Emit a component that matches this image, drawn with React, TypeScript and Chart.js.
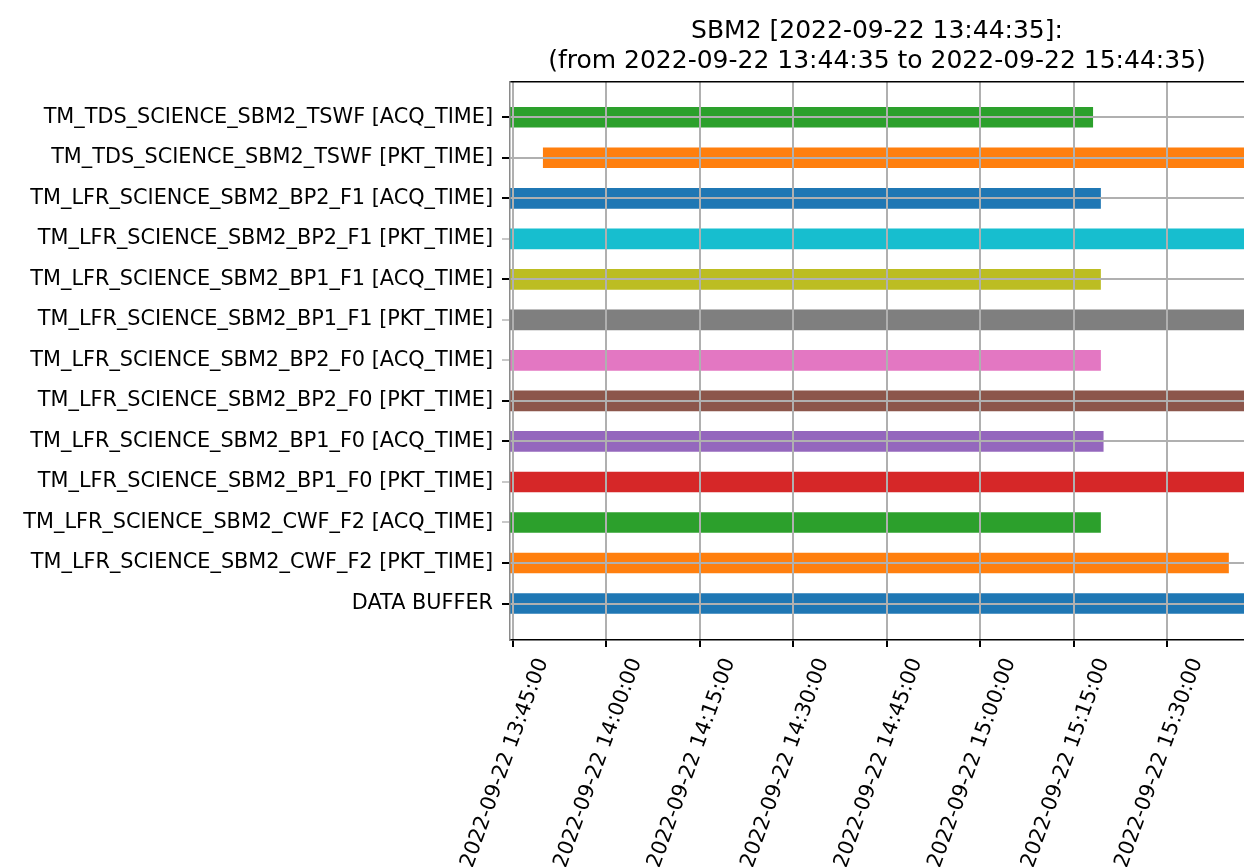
import React, { useEffect, useRef } from "react";
import { Chart, registerables } from "chart.js";

Chart.register(...registerables);

const DATE = "2022-09-22";

const TITLE_LINES = [
  "SBM2 [2022-09-22 13:44:35]:",
  "(from 2022-09-22 13:44:35 to 2022-09-22 15:44:35)",
];

const LABELS = [
  "TM_TDS_SCIENCE_SBM2_TSWF [ACQ_TIME]",
  "TM_TDS_SCIENCE_SBM2_TSWF [PKT_TIME]",
  "TM_LFR_SCIENCE_SBM2_BP2_F1 [ACQ_TIME]",
  "TM_LFR_SCIENCE_SBM2_BP2_F1 [PKT_TIME]",
  "TM_LFR_SCIENCE_SBM2_BP1_F1 [ACQ_TIME]",
  "TM_LFR_SCIENCE_SBM2_BP1_F1 [PKT_TIME]",
  "TM_LFR_SCIENCE_SBM2_BP2_F0 [ACQ_TIME]",
  "TM_LFR_SCIENCE_SBM2_BP2_F0 [PKT_TIME]",
  "TM_LFR_SCIENCE_SBM2_BP1_F0 [ACQ_TIME]",
  "TM_LFR_SCIENCE_SBM2_BP1_F0 [PKT_TIME]",
  "TM_LFR_SCIENCE_SBM2_CWF_F2 [ACQ_TIME]",
  "TM_LFR_SCIENCE_SBM2_CWF_F2 [PKT_TIME]",
  "DATA BUFFER",
];

const START_TIMES = [
  "13:44:35", "13:49:52", "13:44:35", "13:44:35", "13:44:35", "13:44:35", "13:44:35",
  "13:44:35", "13:44:35", "13:44:35", "13:44:35", "13:44:35", "13:44:35",
];

const END_TIMES = [
  "15:18:08", "15:44:35", "15:19:23", "15:44:35", "15:19:23", "15:44:35", "15:19:23",
  "15:44:35", "15:19:49", "15:44:35", "15:19:23", "15:39:55", "15:44:35",
];

const BAR_COLORS = [
  "#2ca02c", "#ff7f0e", "#1f77b4", "#17becf", "#bcbd22", "#7f7f7f", "#e377c2",
  "#8c564b", "#9467bd", "#d62728", "#2ca02c", "#ff7f0e", "#1f77b4",
];

// rows whose horizontal grid line is not visible over the bars
const ROWS_WITHOUT_LINE = [3, 5, 6, 9, 10];

const X_TICKS = [
  "13:45:00", "14:00:00", "14:15:00", "14:30:00",
  "14:45:00", "15:00:00", "15:15:00", "15:30:00",
];

const VIEW_START = "13:44:35";
const VIEW_END = "15:42:21";

const toSec = (t: string) => {
  const [h, m, s] = t.split(":").map(Number);
  return h * 3600 + m * 60 + s;
};
const pad = (n: number) => String(n).padStart(2, "0");
const fmt = (v: number) =>
  `${DATE} ${pad(Math.floor(v / 3600))}:${pad(Math.floor((v % 3600) / 60))}:${pad(Math.round(v % 60))}`;

const FONT = "'DejaVu Sans', sans-serif";

export default function App() {
  const ref = useRef<HTMLCanvasElement>(null);

  useEffect(() => {
    document.body.style.margin = "0";
    const chart = new Chart(ref.current!, {
      type: "bar",
      data: {
        datasets: [
          {
            data: LABELS.map((_, i) => ({
              x: [toSec(START_TIMES[i]), toSec(END_TIMES[i])],
              y: i,
            })) as any,
            backgroundColor: BAR_COLORS,
            borderWidth: 0,
            categoryPercentage: 1,
            barPercentage: 0.51,
          },
        ],
      },
      options: {
        indexAxis: "y",
        animation: false,
        responsive: false,
        maintainAspectRatio: false,
        layout: { padding: 0 },
        plugins: {
          legend: { display: false },
          tooltip: { enabled: false },
          title: {
            display: true,
            text: TITLE_LINES,
            fullSize: false,
            color: "#000",
            font: { family: FONT, size: 25, weight: "normal", lineHeight: 1.2 },
            padding: { top: 16, bottom: 6 },
          },
        },
        scales: {
          x: {
            type: "linear",
            position: "bottom",
            min: toSec(VIEW_START),
            max: toSec(VIEW_END),
            beginAtZero: false,
            offset: false,
            afterBuildTicks: (s: any) => {
              s.ticks = X_TICKS.map((t) => ({ value: toSec(t) }));
            },
            afterFit: (s: any) => {
              s.height = 227;
            },
            grid: {
              z: 1,
              color: "#b0b0b0",
              lineWidth: 2,
              tickColor: "#000",
              tickLength: 7,
              drawOnChartArea: true,
            } as any,
            border: { display: true, color: "#000", width: 1.5, z: 2 } as any,
            ticks: {
              autoSkip: false,
              minRotation: 70,
              maxRotation: 70,
              labelOffset: 30,
              padding: 8,
              color: "#000",
              font: { family: FONT, size: 20.8 },
              callback: (v: any) => fmt(Number(v)),
            },
          },
          xTop: {
            type: "linear",
            position: "top",
            display: true,
            afterFit: (s: any) => {
              s.height = 0;
            },
            grid: { display: false, drawTicks: false },
            border: { display: true, color: "#000", width: 1.5, z: 2 } as any,
            ticks: { display: false },
          },
          y: {
            type: "linear",
            reverse: true,
            min: -0.87,
            max: 12.9,
            offset: false,
            beginAtZero: false,
            afterBuildTicks: (s: any) => {
              s.ticks = LABELS.map((_, i) => ({ value: i }));
            },
            afterFit: (s: any) => {
              s.width = 510;
            },
            grid: {
              z: 1,
              offset: false,
              color: (ctx: any) =>
                ROWS_WITHOUT_LINE.includes(ctx.tick?.value) ? "rgba(0,0,0,0)" : "#b0b0b0",
              tickColor: (ctx: any) =>
                ROWS_WITHOUT_LINE.includes(ctx.tick?.value) ? "#c8c8c8" : "#000",
              lineWidth: 2,
              tickLength: 8,
            } as any,
            border: { display: true, color: "#8a8a8a", width: 1.5, z: 2 } as any,
            ticks: {
              autoSkip: false,
              padding: 9,
              color: "#000",
              font: { family: FONT, size: 20.8 },
              callback: (v: any) => LABELS[Number(v)] ?? "",
            },
          },
        },
      },
    });
    return () => chart.destroy();
  }, []);

  return (
    <div style={{ width: 1244, height: 867, overflow: "hidden" }}>
      <canvas ref={ref} width={1244} height={867} style={{ display: "block" }} />
    </div>
  );
}
